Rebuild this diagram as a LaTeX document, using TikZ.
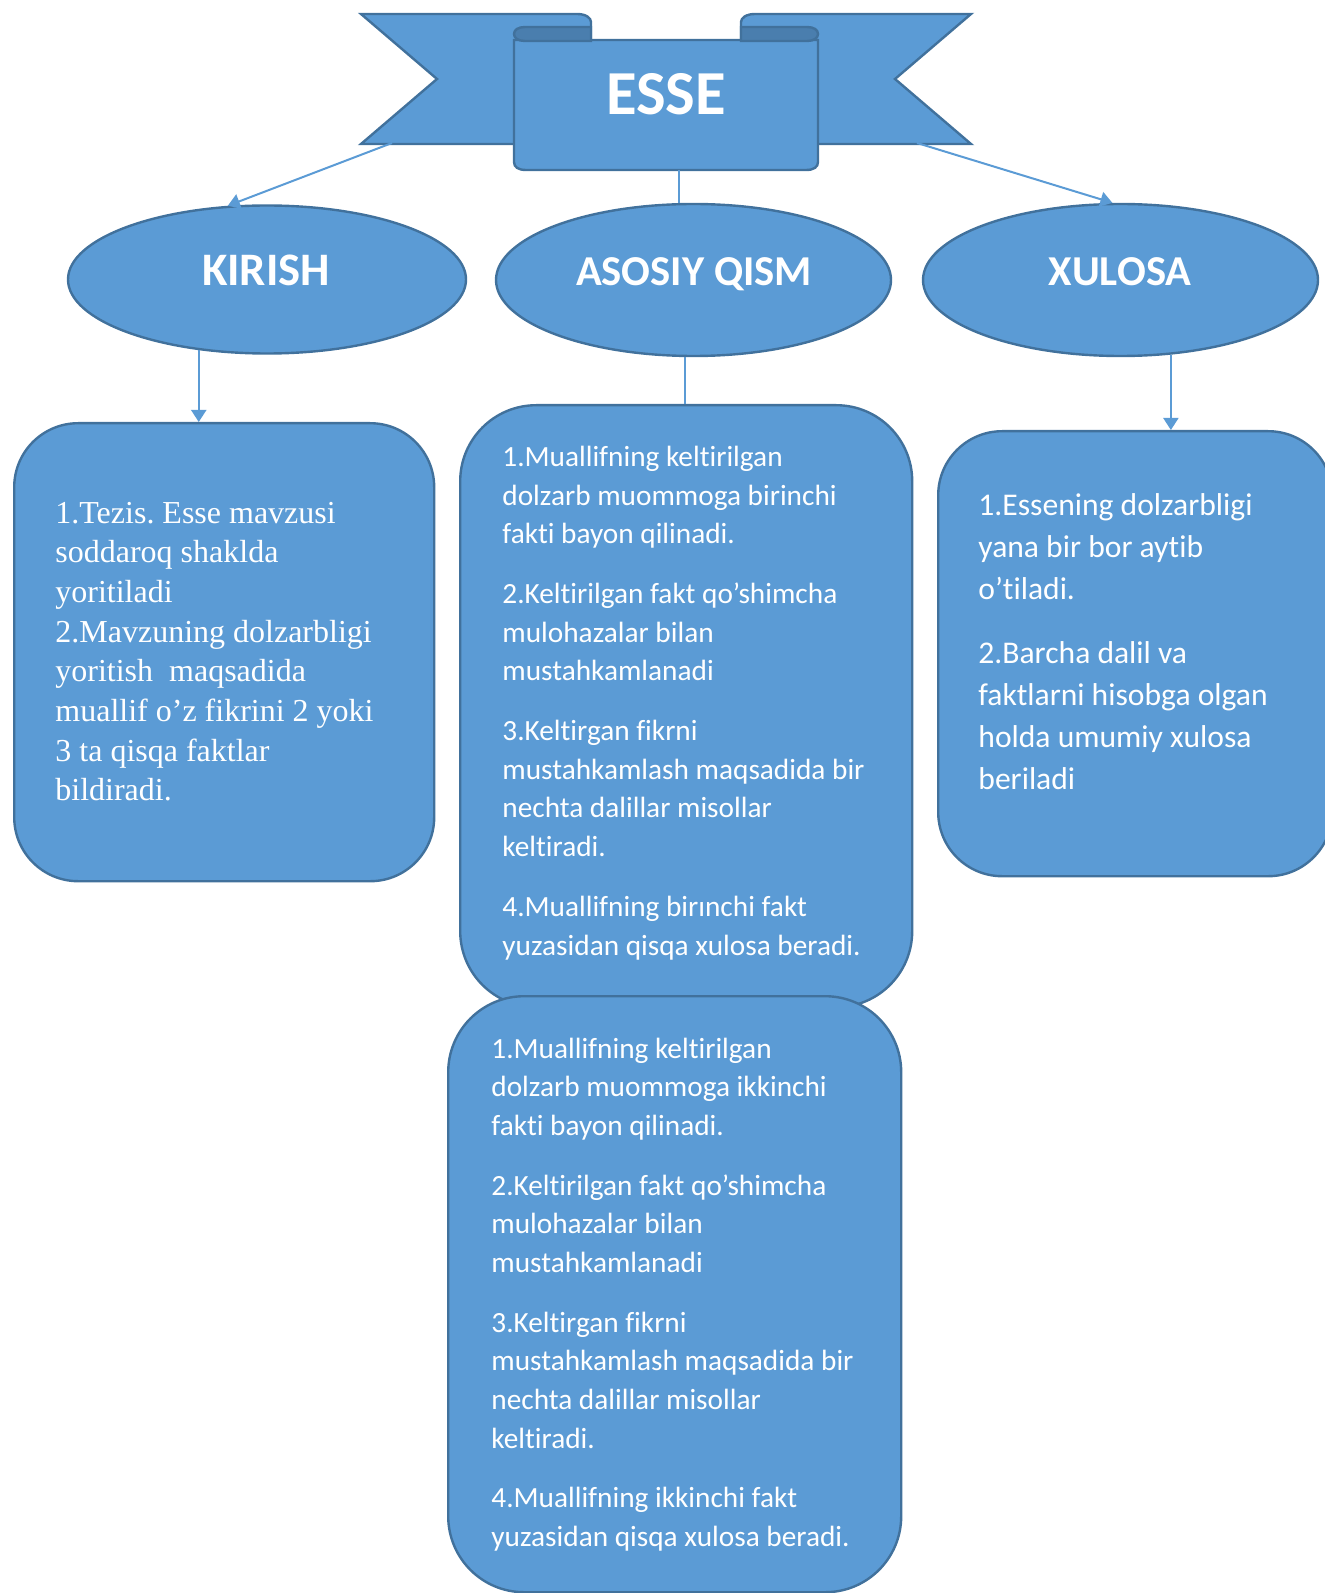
\documentclass[tikz,border=0pt]{standalone}
\usepackage{fontspec}
\setmainfont{Carlito}[Ligatures=CommonOff]
\newfontfamily\timesf{Liberation Serif}
\usetikzlibrary{shapes.geometric,arrows.meta}
\definecolor{bfill}{HTML}{5B9BD5}
\definecolor{bline}{HTML}{41719C}
\definecolor{bdark}{HTML}{4A7EAE}
\definecolor{connc}{HTML}{5B9BD5}
\frenchspacing
\begin{document}
\begin{tikzpicture}[x=0.5pt,y=-0.5pt,
  blueshape/.style={fill=bfill,draw=bline,line width=1.2pt},
  rolldark/.style={fill=bdark,draw=bline,line width=1.2pt},
  ell/.style={blueshape,ellipse,inner sep=0pt},
  boxnode/.style={blueshape,rectangle,inner sep=0pt,anchor=north west},
  conn/.style={draw=connc,line width=1pt},
  arrowtip/.style={-{Triangle[width=7.5pt,length=6pt]}},
  ttl/.style={text=white,font=\fontsize{21.3pt}{26pt}\bfseries\selectfont,anchor=base,inner sep=0pt},
  esse/.style={text=white,font=\fontsize{31.3pt}{36pt}\bfseries\selectfont,anchor=base,inner sep=0pt},
  ltext/.style={text=white,anchor=base west,inner sep=0pt,align=flush left,text width=190pt,font=\timesf\fontsize{16pt}{19.85pt}\selectfont\frenchspacing},
  mtext/.style={text=white,anchor=base west,inner sep=0pt,align=flush left,text width=200pt,font=\fontsize{14.65pt}{19.3pt}\selectfont\frenchspacing},
  rtext/.style={text=white,anchor=base west,inner sep=0pt,align=flush left,text width=170pt,font=\fontsize{15.8pt}{21pt}\selectfont\frenchspacing}
]
\useasboundingbox (0,0) rectangle (1325,1593);
\clip (0,0) rectangle (1325,1593);

% ---- banner ----
\filldraw[blueshape] (361,14) -- (577,14) .. controls (586,14) and (591,18) .. (591,22) -- (591,144) -- (361,144) -- (437,79) -- cycle;
\filldraw[blueshape] (971,14) -- (755,14) .. controls (746,14) and (741,18) .. (741,22) -- (741,144) -- (971,144) -- (895,79) -- cycle;
\filldraw[blueshape] (514,40) -- (514,162) .. controls (514,167) and (518,170) .. (526,170) -- (806,170) .. controls (814,170) and (818,167) .. (818,162) -- (818,40) -- cycle;
\filldraw[rolldark] (591,27) -- (525,27) .. controls (518,27) and (514,30) .. (514,34) .. controls (514,38) and (518,41) .. (525,41) -- (591,41) -- cycle;
\filldraw[rolldark] (741,27) -- (807,27) .. controls (814,27) and (818,30) .. (818,34) .. controls (818,38) and (814,41) .. (807,41) -- (741,41) -- cycle;
\node[esse] (essetxt) at (666,115) {ESSE};
\coordinate (bl) at (392,143);
\coordinate (br) at (917,143);
\coordinate (pb) at (679,170);

% ---- ellipses ----
\node[ell,minimum width=398pt*0.5,minimum height=148pt*0.5] (kir) at (267,279.5) {};
\node[ell,minimum width=395pt*0.5,minimum height=152pt*0.5] (aso) at (693.5,280) {};
\node[ell,minimum width=395pt*0.5,minimum height=152pt*0.5] (xul) at (1120.5,280) {};
\node[ttl,font=\fontsize{23.3pt}{27pt}\bfseries\selectfont] (kirt) at (266,286) {KIRISH};
\node[ttl] (asot) at (694,286) {ASOSIY QISM};
\node[ttl] (xult) at (1120,286) {XULOSA};

% ---- boxes ----
\node[boxnode,rounded corners=32pt,minimum width=210pt,minimum height=229pt] (lbox) at (13,422) {};
\node[boxnode,rounded corners=38pt,minimum width=226pt,minimum height=301pt] (m1) at (459,404) {};
\node[boxnode,rounded corners=38pt,minimum width=226.5pt,minimum height=298pt] (m2) at (447,995) {};
\node[boxnode,rounded corners=32pt,minimum width=197pt,minimum height=222.5pt] (rbox) at (937,430) {};

% ---- texts ----
\node[ltext] (lt) at (55,523) {1.Tezis. Esse mavzusi\\
soddaroq shaklda\\
yoritiladi\\
2.Mavzuning dolzarbligi\\
yoritish\ \ maqsadida\\
muallif o’z fikrini 2 yoki\\
3 ta qisqa faktlar\\
bildiradi.};

\node[mtext] (m1t) at (502,466.5) {1.Muallifning keltirilgan\\
dolzarb muommoga birinchi\\
fakti bayon qilinadi.\\[10.65pt]
2.Keltirilgan fakt qo’shimcha\\
mulohazalar bilan\\
mustahkamlanadi\\[10.65pt]
3.Keltirgan fikrni\\
mustahkamlash maqsadida bir\\
nechta dalillar misollar\\
keltiradi.\\[10.65pt]
4.Muallifning birınchi fakt\\
yuzasidan qisqa xulosa beradi.};

\node[mtext] (m2t) at (491,1058) {1.Muallifning keltirilgan\\
dolzarb muommoga ikkinchi\\
fakti bayon qilinadi.\\[10.65pt]
2.Keltirilgan fakt qo’shimcha\\
mulohazalar bilan\\
mustahkamlanadi\\[10.65pt]
3.Keltirgan fikrni\\
mustahkamlash maqsadida bir\\
nechta dalillar misollar\\
keltiradi.\\[10.65pt]
4.Muallifning ikkinchi fakt\\
yuzasidan qisqa xulosa beradi.};

\node[rtext] (rt) at (978,515) {1.Essening dolzarbligi\\
yana bir bor aytib\\
o’tiladi.\\[11pt]
2.Barcha dalil va\\
faktlarni hisobga olgan\\
holda umumiy xulosa\\
beriladi};

% ---- connectors ----
\draw[conn,arrowtip] (bl) -- (kir.118);
\draw[conn] (pb) -- (pb |- aso.north);
\draw[conn,arrowtip] (br) -- (xul.96);
\draw[conn,arrowtip] (kir.226.6) -- (kir.226.6 |- lbox.north);
\draw[conn] (aso.264) -- (aso.264 |- m1.north);
\draw[conn,arrowtip] (xul.304.5) -- (xul.304.5 |- rbox.north);
\end{tikzpicture}
\end{document}
